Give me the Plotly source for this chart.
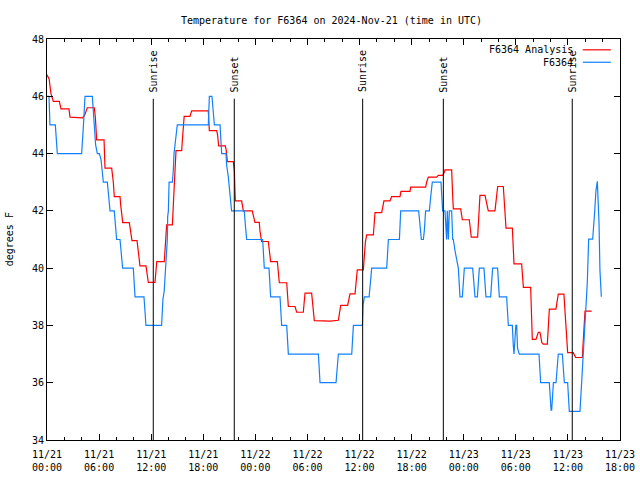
import plotly.graph_objects as go
import pandas as pd

START = pd.Timestamp("2024-11-21 00:00")

# F6364 Analysis (red) : hours since 11/21 00:00 UTC, degrees F
red_hours = [0.0, 0.25, 0.45, 0.73, 1.42, 1.61, 2.53, 2.65, 4.11, 4.35, 4.64, 5.45, 5.57, 5.72, 6.57, 6.68,
             7.45, 7.55, 7.64, 7.75, 8.41, 8.49, 8.72, 9.48, 9.64, 9.79, 10.37, 10.52, 10.71, 11.4, 11.67,
             12.44, 12.64, 13.51, 13.67, 13.78, 14.44, 14.53, 14.63, 14.86, 15.51, 15.6, 15.7, 15.8, 16.47,
             16.55, 16.66, 18.58, 18.65, 18.7, 19.54, 19.65, 19.77, 20.54, 20.65, 20.77, 21.46, 21.58, 21.65,
             21.7, 22.42, 22.61, 23.64, 23.76, 23.95, 24.45, 24.53, 24.72, 25.49, 25.76, 26.53, 26.76, 27.61,
             27.8, 28.57, 28.76, 29.52, 29.72, 30.48, 30.79, 31.64, 32.6, 33.56, 33.83, 34.63, 34.9, 35.48,
             35.74, 36.44, 36.67, 36.82, 37.59, 37.78, 38.55, 38.81, 39.51, 39.7, 40.66, 40.77, 41.81, 41.89,
             43.61, 43.73, 43.92, 44.88, 45.07, 45.57, 45.73, 45.84, 46.61, 46.73, 46.8, 47.65, 47.84, 48.64,
             48.87, 49.6, 49.76, 49.87, 50.45, 50.64, 50.83, 51.6, 51.79, 51.91, 52.56, 52.75, 52.87, 53.6,
             53.79, 54.67, 54.87, 55.71, 55.82, 55.9, 56.32, 56.59, 56.78, 57.0, 57.16, 57.63, 57.86, 58.62,
             58.89, 59.54, 59.97, 60.62, 60.89, 61.66, 61.97, 62.73]
red_vals = [46.75, 46.6, 46.1, 45.82, 45.82, 45.56, 45.56, 45.27, 45.25, 45.35, 45.6, 45.6, 45.27, 44.48, 44.48, 43.49,
            43.49, 43.3, 43.0, 42.5, 42.5, 42.2, 41.59, 41.59, 41.3, 40.96, 40.96, 40.5, 40.08, 40.08, 39.5,
            39.5, 40.23, 40.23, 41.0, 41.51, 41.51, 41.9, 42.7, 44.1, 44.1, 44.5, 45.0, 45.3, 45.3,
            45.38, 45.49, 45.49, 45.0, 44.8, 44.8, 44.65, 44.27, 44.27, 44.1, 43.72, 43.72, 43.4, 42.7,
            42.35, 42.35, 42.0, 42.0, 41.8, 41.6, 41.6, 41.3, 40.93, 40.93, 40.23, 40.23, 39.49, 39.49,
            38.66, 38.66, 38.46, 38.46, 39.13, 39.13, 38.17, 38.17, 38.15, 38.18, 38.7, 38.7, 39.1, 39.1,
            39.94, 39.94, 40.9, 41.16, 41.16, 41.94, 41.94, 42.35, 42.35, 42.5, 42.5, 42.68, 42.68, 42.83,
            42.83, 43.0, 43.18, 43.18, 43.24, 43.24, 43.32, 43.43, 43.43, 42.5, 42.07, 42.07, 41.69, 41.69,
            41.08, 41.08, 42.0, 42.54, 42.54, 42.3, 42.0, 42.0, 42.6, 42.85, 42.85, 42.0, 41.4, 41.4,
            40.15, 40.15, 39.33, 39.33, 38.5, 37.51, 37.51, 37.76, 37.76, 37.4, 37.35, 37.35, 38.57, 38.57,
            39.09, 39.09, 37.05, 37.05, 36.88, 36.88, 38.5, 38.5]

# F6364 observations (blue)
blue_hours = [0.0, 0.23, 0.34, 0.96, 1.19, 3.99, 4.2, 4.38, 5.22, 5.45, 5.6, 5.8, 6.03, 6.22, 6.49, 6.95, 7.1,
              7.26, 7.75, 7.9, 8.02, 8.41, 8.71, 9.94, 10.14, 11.17, 11.4, 13.2, 13.35, 13.5, 13.67, 13.86,
              13.9, 13.98, 14.06, 14.44, 14.55, 14.63, 14.82, 15.01, 18.58, 18.7, 19.0, 19.1, 19.28, 19.93,
              20.12, 20.62, 20.69, 20.88, 20.92, 21.07, 21.26, 22.72, 22.88, 23.0, 24.72, 24.84, 25.03, 25.57,
              25.76, 26.84, 27.03, 27.61, 27.8, 31.26, 31.45, 33.29, 33.56, 35.1, 35.29, 36.33, 36.4, 36.56,
              37.1, 37.4, 39.13, 39.32, 40.59, 40.74, 42.81, 42.97, 43.12, 43.35, 43.46, 43.61, 44.04, 44.2,
              44.38, 45.38, 45.53, 45.57, 45.84, 45.96, 46.03, 46.11, 46.23, 46.34, 46.61, 46.73, 46.8, 47.0,
              47.38, 47.57, 47.84, 48.07, 49.03, 49.3, 49.57, 49.8, 50.33, 50.56, 51.1, 51.33, 51.9, 52.1,
              52.94, 53.14, 53.6, 53.71, 53.79, 53.9, 54.0, 54.1, 54.2, 54.4, 56.67, 56.86, 57.86, 58.06,
              58.13, 58.33, 58.63, 58.89, 59.36, 59.59, 59.97, 60.16, 61.39, 61.58, 61.77, 61.97, 62.08,
              62.23, 62.39, 62.85, 63.08, 63.23, 63.39, 63.46, 63.58, 63.69, 63.85]
blue_vals = [46, 46, 45, 45, 44, 44, 45, 46, 46, 45, 44.3, 44, 44, 43.8, 43, 43, 42.6,
             42, 42, 41.5, 41, 41, 40, 40, 39, 39, 38, 38, 38.9, 39.2, 40.0, 41.0,
             41.8, 42, 43, 43, 43.43, 44.0, 44.5, 45, 45, 46, 46, 45.5, 45, 45,
             44, 44, 43.6, 43.2, 43, 42.6, 42, 42, 41.4, 41, 41, 41, 40, 40,
             39, 39, 38, 38, 37, 37, 36, 36, 37, 37, 38, 38, 38.7, 39,
             39, 40, 40, 41, 41, 42, 42, 41.3, 41, 41, 41.3, 42, 42, 42.5,
             43, 43, 42.25, 42, 42, 41, 41, 42, 41, 42, 42, 41, 41, 40.6,
             40, 39, 39, 40, 40, 39, 39, 40, 40, 39, 39, 40, 40, 39,
             39, 38, 38, 37.3, 37, 37.5, 38, 38, 37.2, 37, 37, 36, 36, 35.04,
             35.04, 36, 36, 37, 37, 36, 36, 35, 35, 36, 37, 38, 38.5,
             39.47, 41.01, 41.01, 41.95, 42.7, 43.03, 42.5, 41.6, 39.93, 39.0]

series_names = ["F6364 Analysis", "F6364"]
series_colors = ["#ff0000", "#1080ff"]

# Sun events (hours since start)
sun_hours = [12.24, 21.57, 36.36, 45.65, 60.5]
sun_labels = ["Sunrise", "Sunset", "Sunrise", "Sunset", "Sunrise"]

tick_hours = list(range(0, 67, 6))
tick_text = [(START + pd.Timedelta(hours=h)).strftime("%m/%d<br>%H:%M") for h in tick_hours]


def to_time(hours):
    return [START + pd.Timedelta(hours=h) for h in hours]


FONT = "DejaVu Sans Mono"
fig = go.Figure()
fig.add_trace(go.Scatter(x=to_time(red_hours), y=red_vals, mode="lines", name=series_names[0],
                         line=dict(color=series_colors[0], width=1.2)))
fig.add_trace(go.Scatter(x=to_time(blue_hours), y=blue_vals, mode="lines", name=series_names[1],
                         line=dict(color=series_colors[1], width=1.2)))

for h, lab in zip(sun_hours, sun_labels):
    t = START + pd.Timedelta(hours=h)
    fig.add_shape(type="line", xref="x", yref="paper", x0=t, x1=t, y0=0, y1=0.851,
                  line=dict(color="black", width=1))
    fig.add_annotation(x=t, y=0.862, xref="x", yref="paper", text=lab, textangle=-90,
                       showarrow=False, xanchor="center", yanchor="bottom",
                       font=dict(family=FONT, size=10, color="black"))

# legend (gnuplot style: text then sample line)
legend_y = [0.973, 0.942]
for name, col, ly in zip(series_names, series_colors, legend_y):
    fig.add_annotation(x=0.921, y=ly, xref="paper", yref="paper", text=name, showarrow=False,
                       xanchor="right", yanchor="middle", font=dict(family=FONT, size=10, color="black"))
    fig.add_shape(type="line", xref="paper", yref="paper", x0=0.935, x1=0.984, y0=ly, y1=ly,
                  line=dict(color=col, width=1.2))

fig.add_annotation(x=-0.065, y=0.5, xref="paper", yref="paper", text="degrees F", textangle=-90,
                   showarrow=False, xanchor="center", yanchor="middle",
                   font=dict(family=FONT, size=10, color="black"))

fig.update_layout(
    width=640, height=480,
    margin=dict(l=47, r=20, t=39, b=40, autoexpand=False),
    paper_bgcolor="white", plot_bgcolor="white",
    showlegend=False,
    title=dict(text="Temperature for F6364 on 2024-Nov-21 (time in UTC)", x=0.518, xanchor="center",
               y=1 - 20 / 480, yanchor="middle", yref="container",
               font=dict(family=FONT, size=10, color="black")),
    font=dict(family=FONT, size=10, color="black"),
)
fig.update_xaxes(range=[START, START + pd.Timedelta(hours=66)], tickvals=to_time(tick_hours),
                 ticktext=tick_text, ticks="inside", ticklen=6, tickcolor="black", automargin=False,
                 showline=True, linecolor="black", linewidth=1, mirror="allticks", showgrid=False,
                 zeroline=False, ticklabelstandoff=5,
                 minor=dict(dtick=2 * 3600 * 1000, tick0=START, ticks="inside", ticklen=3,
                            tickcolor="black", showgrid=False),
                 tickfont=dict(family=FONT, size=10, color="black"))
fig.update_yaxes(range=[34, 48], tickvals=[34, 36, 38, 40, 42, 44, 46, 48], ticks="inside", ticklen=6,
                 tickcolor="black", showline=True, linecolor="black", linewidth=1, mirror="allticks",
                 showgrid=False, zeroline=False, automargin=False,
                 tickfont=dict(family=FONT, size=10, color="black"))

# drop the page's default 8px body margin so the 640x480 figure fills the window exactly
fig.write_html("out.html", config={"displayModeBar": False},
               post_script="document.body.style.margin='0px';")
